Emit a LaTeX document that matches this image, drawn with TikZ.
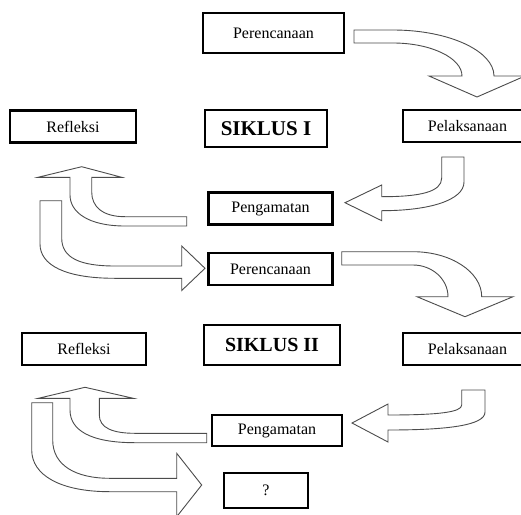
\documentclass[tikz,border=0pt]{standalone}
\usepackage{fontspec}
\setmainfont{Liberation Serif}
\begin{document}
\begin{tikzpicture}[x=1pt,y=-1pt,
  box/.style={draw=black,line width=2.2pt,fill=white,inner sep=0pt,font=\fontsize{16}{19}\selectfont},
  titlebox/.style={box,font=\fontsize{21}{24}\selectfont\bfseries},
  blockarrow/.style={draw=black!70,line width=0.9pt,fill=white,line join=miter}]
\useasboundingbox (0,0) rectangle (521,514);
\clip (0,0) rectangle (521,514);
% ---------- boxes ----------
\node[box,minimum width=141pt,minimum height=40pt] (per1) at (273.5,33) {Perencanaan};
\node[box,minimum width=126pt,minimum height=32pt] (ref1) at (73,126.5) {Refleksi};
\node[titlebox,minimum width=122pt,minimum height=37pt] (sik1) at (266,128.5) {SIKLUS I};
\node[box,minimum width=129pt,minimum height=32pt] (pel1) at (467.5,126) {Pelaksanaan};
\node[box,minimum width=124pt,minimum height=32pt] (pen1) at (270.5,208.5) {Pengamatan};
\node[box,minimum width=124pt,minimum height=32pt] (per2) at (270.5,269) {Perencanaan};
\node[titlebox,minimum width=136pt,minimum height=40pt,font=\fontsize{20}{24}\selectfont\bfseries] (sik2) at (272,345) {SIKLUS II};
\node[box,minimum width=124pt,minimum height=32pt] (ref2) at (84,349) {Refleksi};
\node[box,minimum width=129pt,minimum height=32pt] (pel2) at (467.5,349) {Pelaksanaan};
\node[box,minimum width=130pt,minimum height=31pt] (pen2) at (277,430.5) {Pengamatan};
\node[box,minimum width=84pt,minimum height=35pt] (q) at (266,490.5) {?};
% ---------- block arrows ----------
% Perencanaan 1 -> Pelaksanaan 1
\draw[blockarrow] (354,30) -- (393,30) .. controls (449,30) and (494,51) .. (494,76)
  -- (525,76) -- (477,97) -- (429,76) -- (462,76)
  .. controls (462,58) and (431,43) .. (393,43) -- (354,43) -- cycle;
% Pelaksanaan 1 -> Pengamatan 1
\draw[blockarrow] (441.7,157) -- (464,157) -- (464,182)
  .. controls (464,200) and (430,210.7) .. (381.7,210.7)
  -- (381.7,220.7) -- (345,202.7) -- (381.7,185) -- (381.7,196.7)
  .. controls (420,196.7) and (441.7,192) .. (441.7,178) -- cycle;
% Pengamatan 1 -> Refleksi 1
\draw[blockarrow] (81.7,166.7) -- (121.7,177.3) -- (91.7,177.3) -- (91.7,192)
  .. controls (91.7,207) and (103,216.7) .. (125,216.7) -- (186.7,216.7)
  -- (186.7,226) -- (125,226) .. controls (88,226) and (70,212) .. (70,195)
  -- (70,177.3) -- (38,177.3) -- cycle;
% Refleksi 1 -> Perencanaan 2
\draw[blockarrow] (40,200.7) -- (61.7,200.7) -- (61.7,238)
  .. controls (61.7,258) and (80,266) .. (115,266) -- (181.7,266)
  -- (181.7,246) -- (205,268.3) -- (181.7,290.5) -- (181.7,278.3)
  -- (115,278.3) .. controls (65,278.3) and (40,265) .. (40,244) -- cycle;
% Perencanaan 2 -> Pelaksanaan 2
\draw[blockarrow] (341.7,251.7) -- (413,251.7) .. controls (451,251.7) and (481.7,272) .. (481.7,296.7)
  -- (513,296.7) -- (465,316.7) -- (417,296.7) -- (448,296.7)
  .. controls (448,279) and (432,265) .. (413,265) -- (341.7,265) -- cycle;
% Pelaksanaan 2 -> Pengamatan 2
\draw[blockarrow] (461.7,390) -- (485,390) -- (485,412)
  .. controls (485,425) and (450,430) .. (388,430)
  -- (388,442) -- (352,423) -- (388,404) -- (388,415)
  .. controls (440,415) and (461.7,412) .. (461.7,405) -- cycle;
% Pengamatan 2 -> Refleksi 2
\draw[blockarrow] (85,387.3) -- (133.3,398.3) -- (99.3,398.3) -- (99.3,415)
  .. controls (99.3,428) and (113,433.3) .. (135,433.3) -- (206.7,433.3)
  -- (206.7,442.7) -- (135,442.7) .. controls (90,442.7) and (70,430) .. (70,410)
  -- (70,398.3) -- (38.3,398.3) -- cycle;
% Refleksi 2 -> ?
\draw[blockarrow] (31.7,402.7) -- (52.7,402.7) -- (52.7,440)
  .. controls (52.7,465) and (75,478.3) .. (110,478.3) -- (176.7,478.3)
  -- (176.7,453.3) -- (201.7,485) -- (176.7,516.7) -- (176.7,491.7)
  -- (110,491.7) .. controls (60,491.7) and (31.7,475) .. (31.7,450) -- cycle;
\end{tikzpicture}
\end{document}
